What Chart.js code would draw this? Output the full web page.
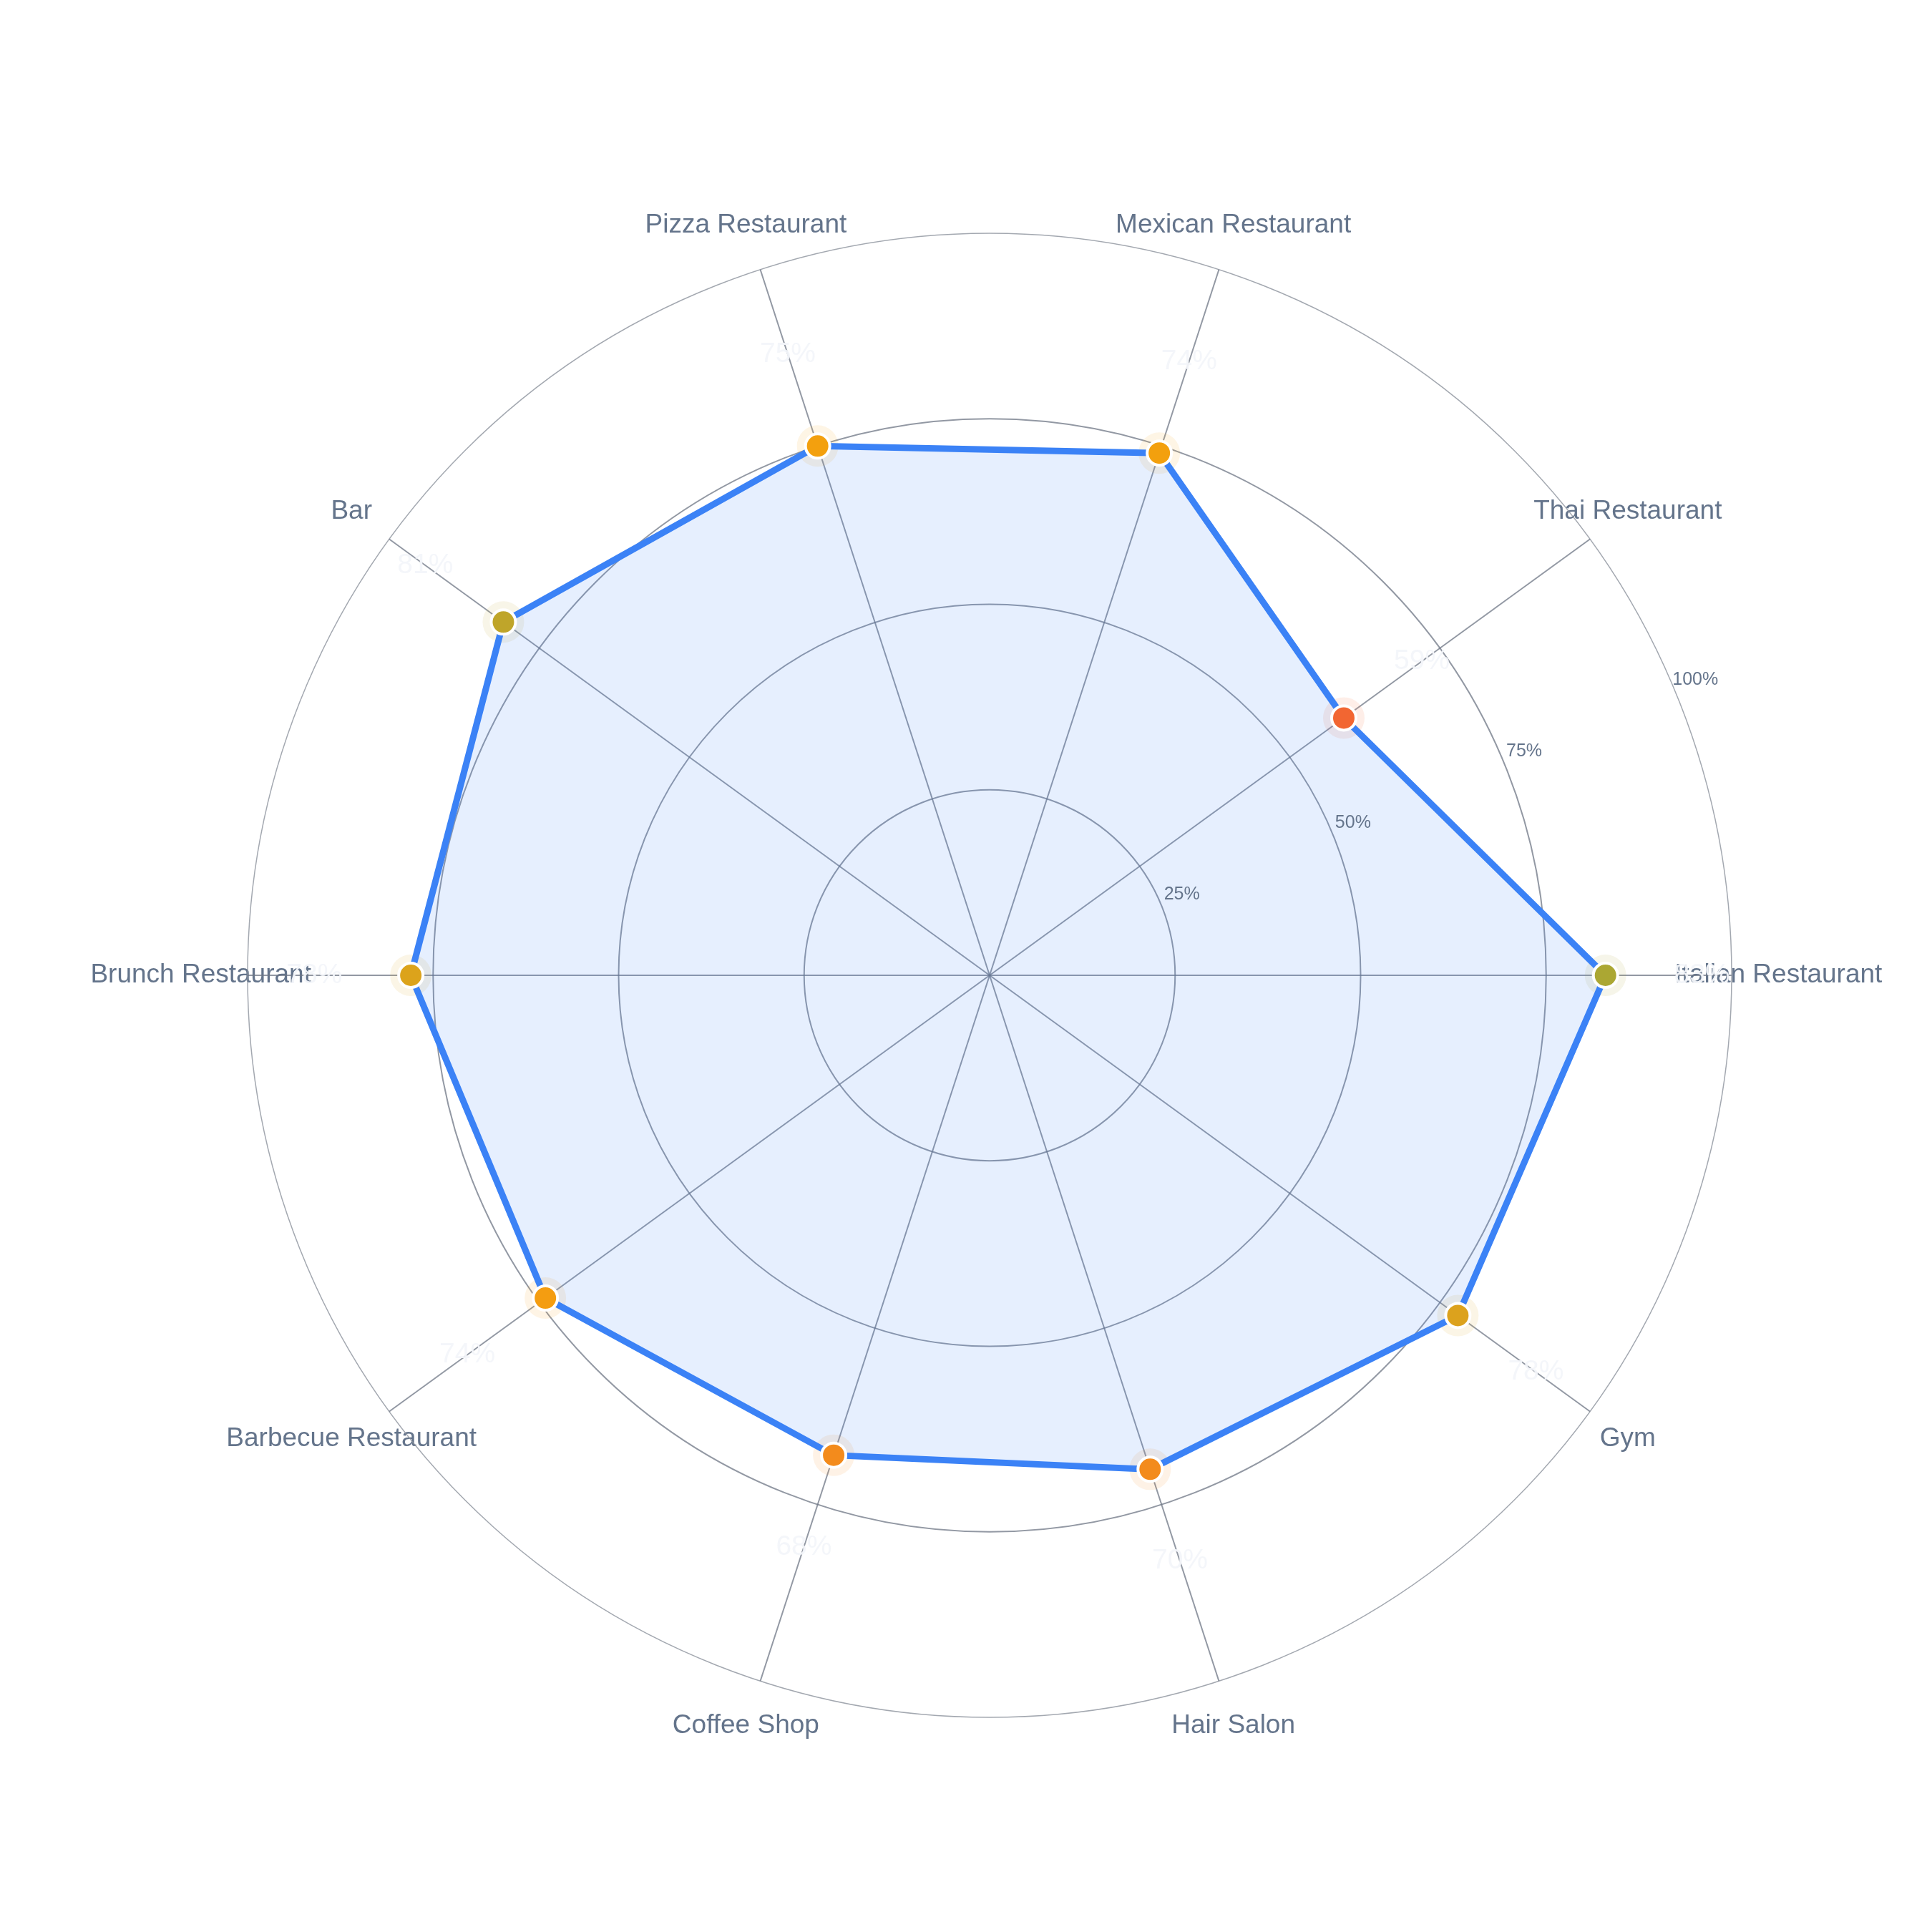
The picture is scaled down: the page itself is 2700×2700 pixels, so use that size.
<!DOCTYPE html>
<html>
<head>
<meta charset="utf-8">
<script src="https://cdn.jsdelivr.net/npm/chart.js@4/dist/chart.umd.min.js"></script>
<style>
  html, body { margin: 0; padding: 0; background: #ffffff; }
  #wrap { width: 2700px; height: 2700px; position: relative; }
</style>
</head>
<body>
<div id="wrap"><canvas id="c"></canvas></div>
<script>
// Data (counter-clockwise order starting at the right)
const categories = ['Italian Restaurant', 'Thai Restaurant', 'Mexican Restaurant', 'Pizza Restaurant', 'Bar',
  'Brunch Restaurant', 'Barbecue Restaurant', 'Coffee Shop', 'Hair Salon', 'Gym'];
const values = [83, 59, 74, 75, 81, 78, 74, 68, 70, 78];
const tickValues = [25, 50, 75, 100];
const tickLabels = ['25%', '50%', '75%', '100%'];

// Styles
const pointColors = ['#aba733', '#f26632', '#f3a00e', '#f3a00e', '#bfa52a',
  '#dca31b', '#f49d11', '#f38b1c', '#f38b1c', '#dca21d'];

// Chart.js goes clockwise; reorder so that the visual order is counter-clockwise from the east
function ccw(arr) { return [arr[0]].concat(arr.slice(1).reverse()); }
const chartLabels = ccw(categories);
const chartValues = ccw(values);
const chartColors = ccw(pointColors);
const haloColors = chartColors.map(c => c + '1c');

const FONT = '"Liberation Sans", Arial, Helvetica, sans-serif';
const SLATE = '#64748b';

const labelPlugin = {
  id: 'customLabels',
  beforeDraw(chart) {
    const scale = chart.scales.r;
    const ctx = chart.ctx;
    ctx.save();
    ctx.font = '37px ' + FONT;
    ctx.fillStyle = SLATE;
    ctx.textAlign = 'center';
    ctx.textBaseline = 'middle';
    chartLabels.forEach((lab, i) => {
      const p = scale.getPointPositionForValue(i, 106.3);
      ctx.fillText(lab, p.x, p.y);
    });
    ctx.restore();
  },
  afterDatasetsDraw(chart) {
    const scale = chart.scales.r;
    const ctx = chart.ctx;
    ctx.save();
    // radial tick labels
    ctx.font = '25px ' + FONT;
    ctx.fillStyle = SLATE;
    ctx.textAlign = 'center';
    ctx.textBaseline = 'middle';
    const ang = 22.7 * Math.PI / 180;
    tickValues.forEach((v, i) => {
      const d = scale.getDistanceFromCenterForValue(v) + 32;
      ctx.fillText(tickLabels[i], scale.xCenter + d * Math.cos(ang), scale.yCenter - d * Math.sin(ang));
    });
    // faint value labels
    ctx.font = '39px ' + FONT;
    ctx.fillStyle = 'rgba(243,246,250,0.95)';
    chartValues.forEach((v, i) => {
      const p = scale.getPointPositionForValue(i, v + 13);
      ctx.fillText(v + '%', p.x, p.y);
    });
    ctx.restore();
  }
};

Chart.defaults.font.family = FONT;

new Chart(document.getElementById('c'), {
  type: 'radar',
  data: {
    labels: chartLabels,
    datasets: [
      {
        data: chartValues,
        borderColor: '#3b82f6',
        borderWidth: 9,
        backgroundColor: 'rgba(59,130,246,0.13)',
        fill: true,
        pointRadius: 17,
        pointBorderWidth: 4,
        pointBorderColor: '#ffffff',
        pointBackgroundColor: chartColors,
        tension: 0
      },
      {
        data: chartValues,
        showLine: false,
        borderWidth: 0,
        borderColor: 'rgba(0,0,0,0)',
        backgroundColor: 'rgba(0,0,0,0)',
        fill: false,
        pointRadius: 29,
        pointBorderWidth: 0,
        pointBackgroundColor: haloColors
      }
    ]
  },
  options: {
    responsive: true,
    maintainAspectRatio: false,
    devicePixelRatio: 1,
    animation: false,
    events: [],
    layout: { padding: { left: 346, right: 280, top: 326, bottom: 300 } },
    plugins: { legend: { display: false }, tooltip: { enabled: false }, title: { display: false } },
    scales: {
      r: {
        min: 0,
        max: 100,
        startAngle: 90,
        ticks: { display: false, stepSize: 25 },
        pointLabels: { display: false },
        angleLines: { display: true, color: 'rgba(110,118,132,0.75)', lineWidth: 2 },
        grid: {
          circular: true,
          color: (c) => (c.tick && c.tick.value === 100) ? 'rgba(140,146,156,0.8)' : 'rgba(110,118,132,0.75)',
          lineWidth: (c) => (c.tick && c.tick.value === 100) ? 1.5 : 2
        }
      }
    }
  },
  plugins: [labelPlugin]
});
</script>
</body>
</html>
